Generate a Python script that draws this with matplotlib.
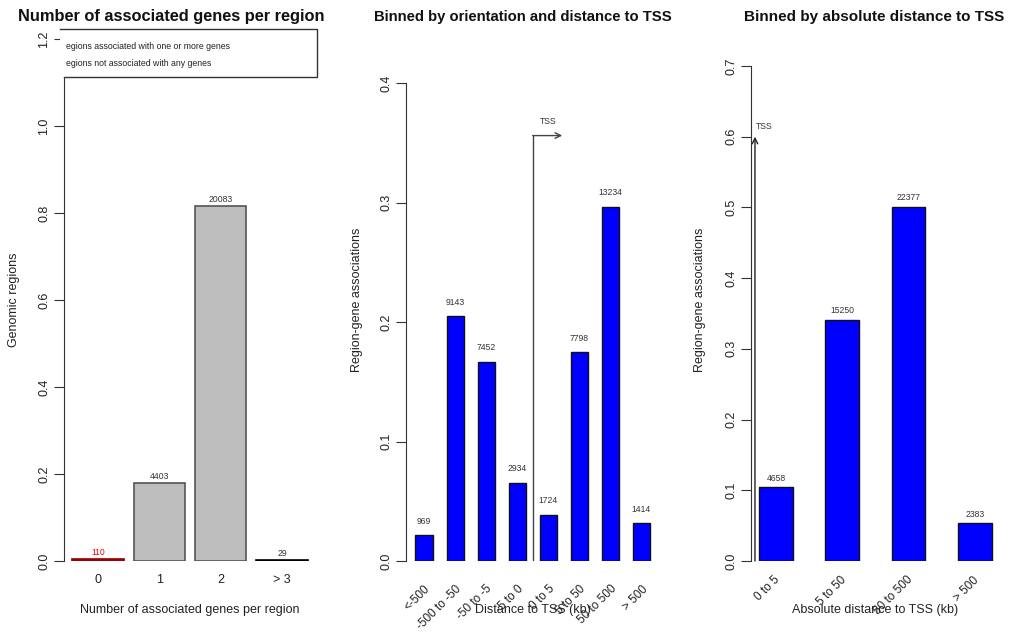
import matplotlib
matplotlib.use("Agg")
import matplotlib.pyplot as plt
from matplotlib.patches import Rectangle
import numpy as np

plt.rcParams['font.family'] = ['Liberation Sans', 'DejaVu Sans']

# panel 1: number of associated genes per region
gene_cats = ["0", "1", "2", "> 3"]
gene_counts = [110, 4403, 20083, 29]
gene_colors = ["red", "#bebebe", "#bebebe", "#bebebe"]
legend_lines = ["egions associated with one or more genes",
                "egions not associated with any genes"]

# panel 2: binned by orientation and distance
orient_cats = ["<-500", "-500 to -50", "-50 to -5", "-5 to 0",
               "0 to 5", "5 to 50", "50 to 500", "> 500"]
orient_counts = [969, 9143, 7452, 2934, 1724, 7798, 13234, 1414]

# panel 3: binned by absolute distance
abs_cats = ["0 to 5", "5 to 50", "50 to 500", "> 500"]
abs_counts = [4658, 15250, 22377, 2383]

W, H = 1011, 632
fig = plt.figure(figsize=(W / 100, H / 100), dpi=100)

def px_axes(x0, x1, ytop, ybot):
    return fig.add_axes([x0 / W, 1 - ybot / H, (x1 - x0) / W, (ybot - ytop) / H])

def r_style(ax, yticks, spine_top=None):
    for s in ["top", "right", "bottom"]:
        ax.spines[s].set_visible(False)
    ax.spines["left"].set_bounds(0, spine_top if spine_top is not None else yticks[-1])
    ax.spines["left"].set_color("#333333")
    ax.set_yticks(yticks)
    ax.set_yticklabels(["%.1f" % t for t in yticks], rotation=90, va="center", fontsize=9)
    ax.tick_params(axis="y", length=7, pad=3, color="#333333", labelcolor="#222222")
    ax.tick_params(axis="x", length=0)
    ax.set_xticks([])

lab_col = "#333333"

# ---------------- panel 1
ax1 = px_axes(64, 317, 39, 561)
frac1 = np.array(gene_counts) / sum(gene_counts)
x1 = 0.7 + 1.2 * np.arange(len(gene_cats))
edges1 = ["#8b0000", "#555555", "#555555", "black"]
ax1.bar(x1, frac1, width=1.0, color=gene_colors, edgecolor=edges1, linewidth=1.2)
ax1.set_xlim(0.035, 4.985)
ax1.set_ylim(0, 1.2)
r_style(ax1, [0.0, 0.2, 0.4, 0.6, 0.8, 1.0, 1.2], spine_top=1.113)
for xi, f, c, col in zip(x1, frac1, gene_counts, ["red", lab_col, lab_col, lab_col]):
    ax1.annotate(str(c), (xi, f), xytext=(0, 7), textcoords="offset pixels",
                 ha="center", va="center", fontsize=6.2, color=col)
for xi, c in zip(x1, gene_cats):
    ax1.annotate(c, (xi, 0), xycoords=("data", "axes fraction"), xytext=(0, -19),
                 textcoords="offset pixels", ha="center", va="center", fontsize=9, color="#222222")
# legend box (left part cut off as in the original)
ax1.add_patch(Rectangle((-0.016, 0.927), 1.016, 0.092, transform=ax1.transAxes,
                        facecolor="white", edgecolor="none", clip_on=False, zorder=3))
ax1.plot([-0.016, 1.0, 1.0, 0.0], [1.019, 1.019, 0.927, 0.927], transform=ax1.transAxes,
         color="#333333", lw=1, clip_on=False, zorder=4)
for yy, t in zip([0.985, 0.954], legend_lines):
    ax1.text(0.008, yy, t, transform=ax1.transAxes, fontsize=6.3, va="center",
             ha="left", color="#222222", zorder=5)

# ---------------- panel 2
ax2 = px_axes(406, 660, 83, 561)
frac2 = np.array(orient_counts) / sum(orient_counts)
x2 = np.arange(len(orient_cats))
ax2.bar(x2, frac2, width=0.55, color="#0000ff", edgecolor="#111111", linewidth=1)
ax2.set_xlim(-0.58, 7.6)
ax2.set_ylim(0, 0.4)
r_style(ax2, [0.0, 0.1, 0.2, 0.3, 0.4])
for xi, f, c in zip(x2, frac2, orient_counts):
    ax2.annotate(str(c), (xi, f), xytext=(0, 14), textcoords="offset pixels",
                 ha="center", va="center", fontsize=6.2, color=lab_col)
for xi, c in zip(x2, orient_cats):
    ax2.annotate(c, (xi, 0), xycoords=("data", "axes fraction"), xytext=(0, -22),
                 textcoords="offset pixels", ha="right", va="top", rotation=45,
                 rotation_mode="anchor", fontsize=8.5, color="#222222")
tss2_x = 3.5
tss2_h = 0.356
ax2.plot([tss2_x, tss2_x], [0, tss2_h], color="#444444", lw=1)
ax2.annotate("", xy=(4.45, tss2_h), xytext=(tss2_x, tss2_h),
             arrowprops=dict(arrowstyle="->", color="#444444", lw=1, shrinkA=0, shrinkB=0))
ax2.text(4.0, 0.368, "TSS", ha="center", va="center", fontsize=6.2, color=lab_col)

# ---------------- panel 3
ax3 = px_axes(751, 1000, 66, 561)
frac3 = np.array(abs_counts) / sum(abs_counts)
x3 = np.arange(len(abs_cats))
ax3.bar(x3, frac3, width=0.51, color="#0000ff", edgecolor="#111111", linewidth=1)
ax3.set_xlim(-0.377, 3.38)
ax3.set_ylim(0, 0.7)
r_style(ax3, [0.0, 0.1, 0.2, 0.3, 0.4, 0.5, 0.6, 0.7])
for xi, f, c in zip(x3, frac3, abs_counts):
    ax3.annotate(str(c), (xi, f), xytext=(0, 9), textcoords="offset pixels",
                 ha="center", va="center", fontsize=6.2, color=lab_col)
for xi, c in zip(x3, abs_cats):
    ax3.annotate(c, (xi, 0), xycoords=("data", "axes fraction"), xytext=(-2, -13),
                 textcoords="offset pixels", ha="right", va="top", rotation=45,
                 rotation_mode="anchor", fontsize=8.5, color="#222222")
tss3_x = -0.317
ax3.annotate("", xy=(tss3_x, 0.6), xytext=(tss3_x, 0),
             arrowprops=dict(arrowstyle="->", color="#222222", lw=1, shrinkA=0, shrinkB=0))
ax3.text(tss3_x + 0.01, 0.614, "TSS", ha="left", va="center", fontsize=6.2, color=lab_col)

# titles and axis labels
titles = ["Number of associated genes per region",
          "Binned by orientation and distance to TSS",
          "Binned by absolute distance to TSS"]
for cx, t, fs in zip([171, 523, 874], titles, [11.8, 10.7, 11]):
    fig.text(cx / W, 1 - 17 / H, t, ha="center", va="center", fontsize=fs,
             fontweight="bold", color="#111111")
for cx, t in zip([190, 533, 875], ["Number of associated genes per region",
                                   "Distance to TSS (kb)",
                                   "Absolute distance to TSS (kb)"]):
    fig.text(cx / W, 1 - 610 / H, t, ha="center", va="center", fontsize=9, color="#222222")
for cx, t in zip([14, 357, 700], ["Genomic regions", "Region-gene associations",
                                  "Region-gene associations"]):
    fig.text(cx / W, 1 - 300 / H, t, ha="center", va="center", rotation=90,
             fontsize=9, color="#222222")

fig.savefig("out.png", dpi=100)
